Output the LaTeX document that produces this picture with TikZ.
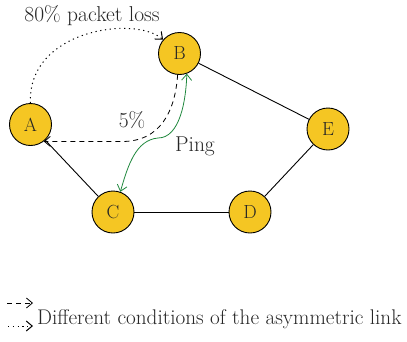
\documentclass[tikz,border=0pt]{standalone}
\usepackage{fontspec}
\usetikzlibrary{arrows.meta}
\definecolor{nodeyellow}{RGB}{245,198,35}
\definecolor{pinggreen}{RGB}{30,135,60}
\tikzset{
  station/.style={circle, draw=black, line width=0.9pt, fill=nodeyellow,
    minimum size=42pt, inner sep=0pt, font=\fontsize{19}{19}\selectfont, text=black!85},
  link/.style={line width=0.9pt},
  barb/.tip={Straight Barb[length=6pt,width=10pt]},
  tip/.style={-barb},
  dotline/.style={line width=1pt, dash pattern=on 1.2pt off 3.6pt},
  dashline/.style={line width=0.8pt, dash pattern=on 5pt off 4pt},
  lbl/.style={font=\fontsize{21.5}{21.5}\selectfont, text=black!85, inner sep=0pt},
}
\begin{document}
\begin{tikzpicture}[x=1pt,y=-1pt]
\useasboundingbox (0,0) rectangle (407,341);
% stations
\node[station] (A) at (30.5,124.5) {A};
\node[station] (B) at (179.5,53.5) {B};
\node[station] (C) at (113,212) {C};
\node[station] (D) at (250,212) {D};
\node[station] (E) at (328,129) {E};
% physical links
\draw[link] (B) -- (E);
\draw[link] (E) -- (D);
\draw[link] (D) -- (C);
\draw[link] (C) -- (A);
% asymmetric link conditions
\draw[dotline, tip] (A.north) .. controls (27,30) and (135,15) .. (B.140);
\draw[dashline, tip]
  (B.265) .. controls (175,112) and (160,141.5) .. (122,141.5) -- (A.-52);
\draw[pinggreen, line width=0.8pt, barb-barb]
  (B.290) .. controls (186,100) and (180,138) .. (158,138)
  .. controls (136,140) and (128,165) .. (C.70);
\node[lbl, anchor=base] (loss) at (92,21) {80\% packet loss};
\node[lbl, anchor=base] (five) at (132,127) {5\%};
\node[lbl, anchor=base] (ping) at (195,151) {Ping};
% legend
\coordinate (d1) at (7,303);
\coordinate (d2) at (33,303);
\coordinate (t1) at (8,326);
\coordinate (t2) at (33,326);
\draw[dashline, tip] (d1) -- (d2);
\draw[dotline, tip] (t1) -- (t2);
\node[lbl, anchor=base west, font=\fontsize{21.2}{21.2}\selectfont] (legend) at (37,324) {Different conditions of the asymmetric link};
\end{tikzpicture}
\end{document}
